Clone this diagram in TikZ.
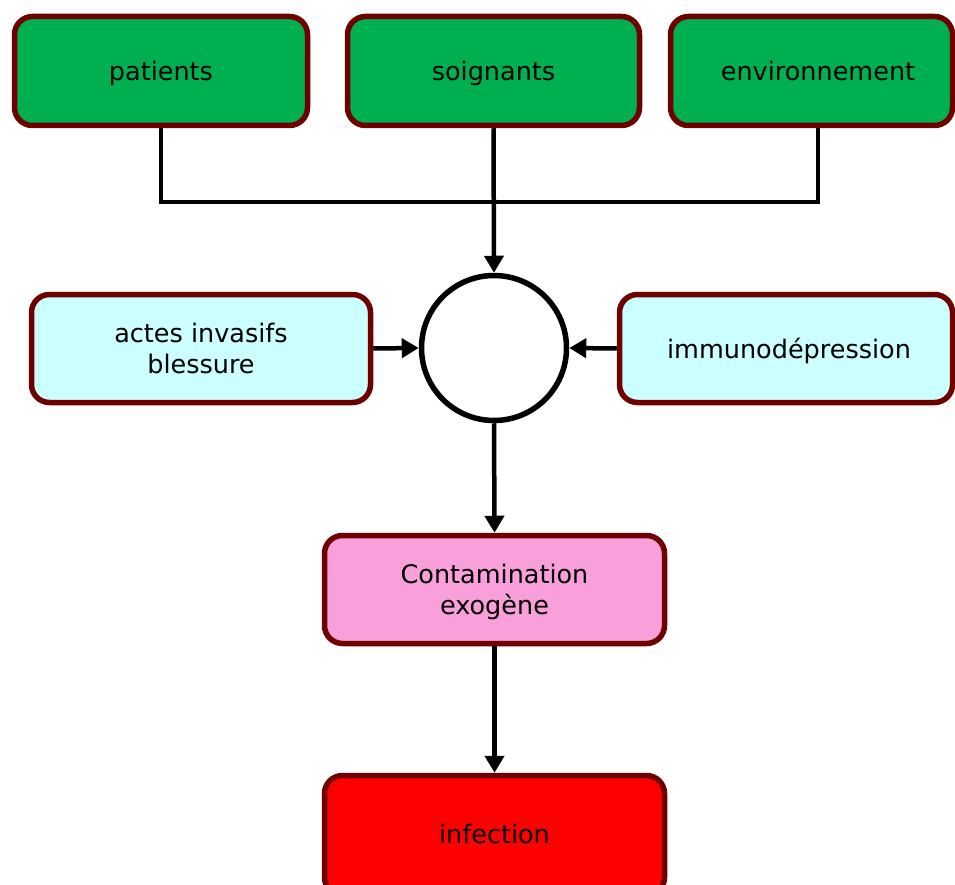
\documentclass[tikz,border=0pt]{standalone}
\usepackage{fontspec}
\setmainfont{DejaVu Sans}
\usetikzlibrary{arrows.meta}
\definecolor{bord}{HTML}{6E0000}
\definecolor{vert}{HTML}{00B050}
\definecolor{cyanl}{HTML}{CCFFFF}
\definecolor{rose}{HTML}{F9A0DA}
\definecolor{rouge}{HTML}{FF0000}
\begin{document}
\begin{tikzpicture}[x=1pt,y=-1pt,
  box/.style={draw=bord,line width=5.5pt,rounded corners=18pt,align=center,
    font=\fontsize{25.5}{31}\selectfont,inner sep=0pt,minimum height=109pt,text depth=0pt},
  conn/.style={line width=4.5pt,draw=black},
  arr/.style={conn,-{Triangle[length=17pt,width=19pt]}}]
\useasboundingbox (0,0) rectangle (955,885);
\node[box,fill=vert,minimum width=293pt] (pat) at (161,71) {patients};
\node[box,fill=vert,minimum width=292pt] (soi) at (493.5,71) {soignants};
\node[box,fill=vert,minimum width=282pt] (env) at (811.5,71) {\hspace*{13pt}environnement};
\node[draw=black,line width=5.5pt,circle,minimum size=145pt,inner sep=0pt,fill=white] (circ) at (494,348) {};
\node[box,fill=cyanl,minimum width=339pt,minimum height=108pt] (act) at (201,348.5) {actes invasifs\\blessure};
\node[box,fill=cyanl,minimum width=333pt,minimum height=108pt] (imm) at (786,348.5) {\hspace*{6pt}immunodépression};
\node[box,fill=rose,minimum width=340pt,minimum height=108pt] (cont) at (494.5,589.5) {Contamination\\exogène};
\node[box,fill=rouge,minimum width=340pt,minimum height=120pt] (inf) at (494.5,835.5) {\raisebox{4pt}{infection}};
\coordinate (jL) at (161,202);
\coordinate (jR) at (818,202);
\draw[conn] (pat.south) -- (jL) -- (jR) -- ([xshift=6.5pt]env.south);
\draw[arr] (soi.south) -- (circ.north);
\draw[arr] (act.east) -- (circ.west);
\draw[arr] (imm.west) -- (circ.east);
\draw[arr] (circ.south) -- (cont.north);
\draw[arr] (cont.south) -- (inf.north);
\end{tikzpicture}
\end{document}
